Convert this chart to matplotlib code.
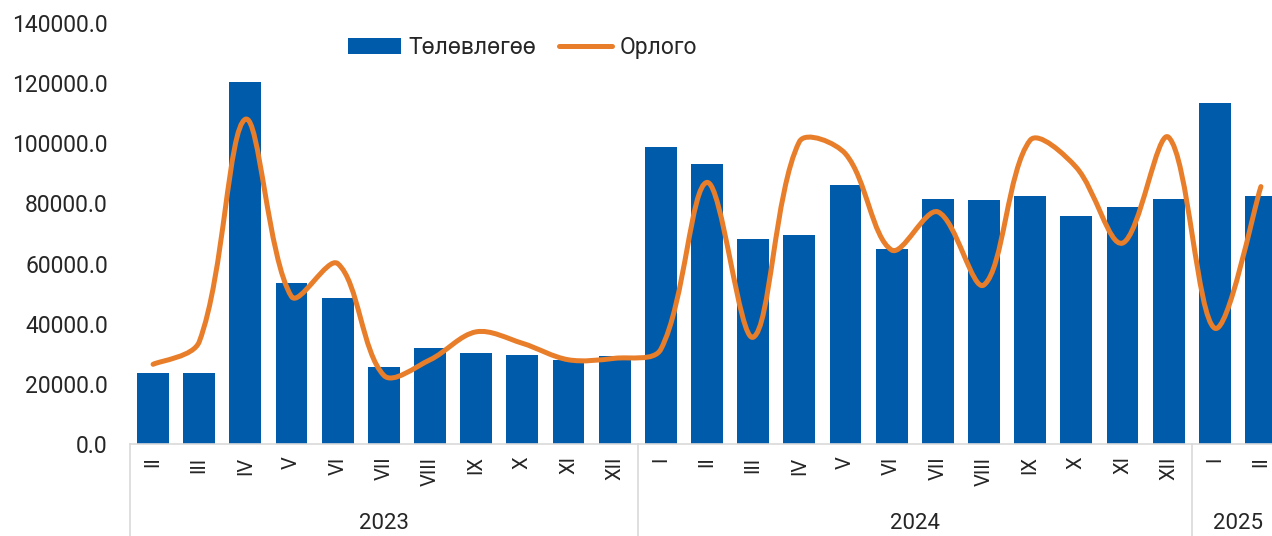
import numpy as np
import matplotlib.pyplot as plt
from matplotlib.path import Path
from matplotlib.patches import PathPatch, Patch
from matplotlib.lines import Line2D

plt.rcParams['font.family'] = ['Roboto', 'DejaVu Sans']

months = ['II', 'III', 'IV', 'V', 'VI', 'VII', 'VIII', 'IX', 'X', 'XI', 'XII',
          'I', 'II', 'III', 'IV', 'V', 'VI', 'VII', 'VIII', 'IX', 'X', 'XI', 'XII',
          'I', 'II']
years = ['2023', '2024', '2025']
year_counts = [11, 12, 2]

plan = [23700, 23700, 120500, 53700, 48600, 25500, 32000, 30400, 29600, 28000, 29200,
        98700, 93100, 68100, 69400, 86200, 64900, 81600, 81200, 82500, 75800, 78700, 81600,
        113400, 82500]
actual = [26500, 34000, 108000, 49000, 60000, 22800, 28000, 37300, 33500, 28000, 28500,
          31500, 87000, 35500, 100500, 96500, 64500, 77200, 52900, 101000, 92000, 66800, 102000,
          38500, 85600]

blue = '#005BAA'
orange = '#E87D2A'
grey = '#D9D9D9'
txt = '#262626'

fig = plt.figure(figsize=(12.72, 5.36), dpi=100)
ax = fig.add_axes([130/1272, 92/536, 1154/1272, 421/536])

x = np.arange(len(plan))
ax.bar(x, plan, width=0.69, color=blue, zorder=2)

# smoothed line: bezier through the points, tangents scaled by segment length (pixel space)
sx, sy = 46.15, 60.13 / 20000
pts = np.column_stack([x * sx, np.array(actual) * sy])
n = len(pts)
tang = np.zeros_like(pts)
for i in range(n):
    a = pts[max(i - 1, 0)]
    b = pts[min(i + 1, n - 1)]
    tang[i] = b - a
seg = np.hypot(*(pts[1:] - pts[:-1]).T)
verts = [tuple(pts[0])]
codes = [Path.MOVETO]
for i in range(n - 1):
    dprev = seg[i - 1] if i > 0 else seg[i]
    dnext = seg[i + 1] if i + 1 < n - 1 else seg[i]
    c1 = pts[i] + tang[i] * seg[i] / (dprev + seg[i]) / 3
    c2 = pts[i + 1] - tang[i + 1] * seg[i] / (seg[i] + dnext) / 3
    verts += [tuple(c1), tuple(c2), tuple(pts[i + 1])]
    codes += [Path.CURVE4] * 3
verts = [(vx / sx, vy / sy) for vx, vy in verts]
ax.add_patch(PathPatch(Path(verts, codes), fill=False, edgecolor=orange, lw=3.6,
                       capstyle='round', joinstyle='round', zorder=3))

ax.set_xlim(-0.5, len(plan) - 0.5)
ax.set_ylim(0, 140000)
ax.set_yticks(np.arange(0, 140001, 20000))
ax.set_yticklabels(['%.1f' % v for v in np.arange(0, 140001, 20000)])
ax.tick_params(axis='y', length=0, pad=16, labelsize=16.5, labelcolor=txt)

ax.set_xticks(x)
ax.set_xticklabels(months, rotation=90, va='top')
ax.tick_params(axis='x', length=0, pad=9, labelsize=14.5, labelcolor=txt)

for s in ['top', 'right', 'left']:
    ax.spines[s].set_visible(False)
ax.spines['bottom'].set_color(grey)
ax.spines['bottom'].set_linewidth(1.2)

# year separators and labels
trans = ax.get_xaxis_transform()
start = -0.5
for yr, cnt in zip(years, year_counts):
    ax.plot([start, start], [0, -0.23], color=grey, lw=1.2, transform=trans, clip_on=False)
    ax.text(start + cnt / 2, -0.19, yr, transform=trans, ha='center', va='center',
            fontsize=16, color=txt)
    start += cnt
ax.plot([start, start], [0, -0.23], color=grey, lw=1.2, transform=trans, clip_on=False)

handles = [Patch(facecolor=blue, edgecolor='none'),
           Line2D([], [], color=orange, lw=3.6, solid_capstyle='round')]
fig.legend(handles, ['Төлөвлөгөө', 'Орлого'], loc='center', bbox_to_anchor=(0.411, 0.912),
           ncol=2, frameon=False, fontsize=16.5, handlelength=2.3, handletextpad=0.35,
           columnspacing=1.0, labelcolor=txt)

fig.savefig('out.png', dpi=100)
